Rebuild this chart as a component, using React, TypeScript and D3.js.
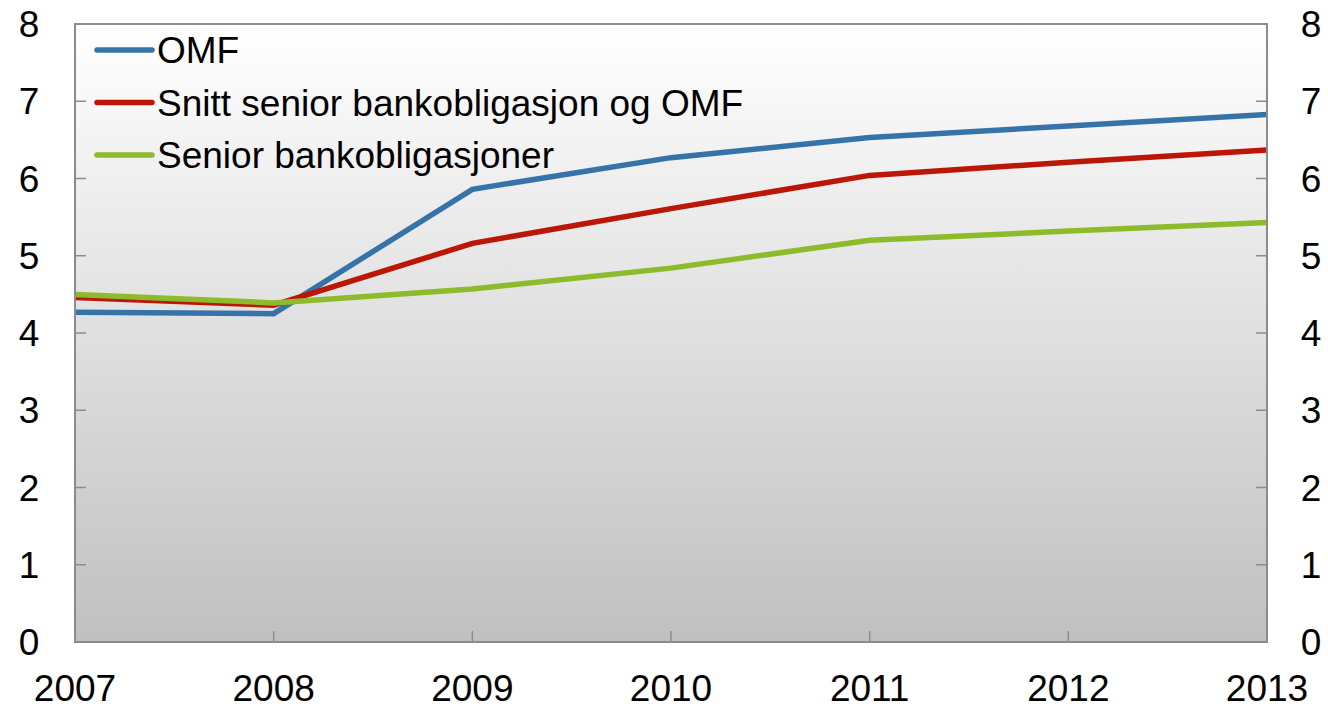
import React from "react";
import * as d3 from "d3";

// years on the x axis
const years = [2007, 2008, 2009, 2010, 2011, 2012, 2013];
// series values (percent)
const omf = [4.27, 4.25, 5.86, 6.27, 6.53, 6.68, 6.83];
const snitt = [4.46, 4.36, 5.16, 5.61, 6.04, 6.21, 6.37];
const senior = [4.5, 4.39, 4.57, 4.84, 5.2, 5.32, 5.43];
const yTicks = [0, 1, 2, 3, 4, 5, 6, 7, 8];

const series = [
  { name: "OMF", values: omf, color: "#3673a9" },
  { name: "Snitt senior bankobligasjon og OMF", values: snitt, color: "#bc1607" },
  { name: "Senior bankobligasjoner", values: senior, color: "#8dbb2b" },
];

const W = 1328;
const H = 709;
const margin = { top: 24, right: 61, bottom: 67, left: 75 };
const FONT = "'Liberation Sans', Arial, sans-serif";

export default function App() {
  const x = d3
    .scaleLinear()
    .domain([years[0], years[years.length - 1]])
    .range([margin.left, W - margin.right]);
  const y = d3
    .scaleLinear()
    .domain([0, 8])
    .range([H - margin.bottom, margin.top]);

  const line = d3
    .line<number>()
    .x((_, i) => x(years[i]))
    .y((d) => y(d));

  const axisColor = "#8c8c8c";
  const tickLen = 11;

  return (
    <svg
      width={W}
      height={H}
      style={{ position: "absolute", left: 0, top: 0, display: "block" }}
      fontFamily={FONT}
    >
      <defs>
        <linearGradient id="bg" x1="0" y1="0" x2="0" y2="1">
          <stop offset="0%" stopColor="#ffffff" />
          <stop offset="100%" stopColor="#c0c0c0" />
        </linearGradient>
        <clipPath id="plot">
          <rect
            x={x.range()[0]}
            y={y.range()[1]}
            width={x.range()[1] - x.range()[0]}
            height={y.range()[0] - y.range()[1]}
          />
        </clipPath>
      </defs>
      <rect
        x={x.range()[0]}
        y={y.range()[1]}
        width={x.range()[1] - x.range()[0]}
        height={y.range()[0] - y.range()[1]}
        fill="url(#bg)"
      />

      {/* ticks */}
      {yTicks.map((t) => (
        <g key={"yt" + t}>
          <line x1={x.range()[0]} x2={x.range()[0] + tickLen} y1={y(t)} y2={y(t)} stroke={axisColor} strokeWidth={1.5} />
          <line x1={x.range()[1]} x2={x.range()[1] - tickLen} y1={y(t)} y2={y(t)} stroke={axisColor} strokeWidth={1.5} />
          <text x={29} y={y(t) + 13} fontSize={37} textAnchor="middle" fill="#000">
            {t}
          </text>
          <text x={1311} y={y(t) + 13} fontSize={37} textAnchor="middle" fill="#000">
            {t}
          </text>
        </g>
      ))}
      {years.map((yr) => (
        <g key={"xt" + yr}>
          <line x1={x(yr)} x2={x(yr)} y1={y(0)} y2={y(0) - tickLen} stroke={axisColor} strokeWidth={1.5} />
          <text x={x(yr)} y={701} fontSize={37} textAnchor="middle" fill="#000">
            {yr}
          </text>
        </g>
      ))}

      {/* lines */}
      <g clipPath="url(#plot)">
        {series.map((s) => (
          <path
            key={s.name}
            d={line(s.values) || ""}
            fill="none"
            stroke={s.color}
            strokeWidth={5.5}
            strokeLinejoin="miter"
          />
        ))}
      </g>

      {/* frame */}
      <rect
        x={x.range()[0]}
        y={y.range()[1]}
        width={x.range()[1] - x.range()[0]}
        height={y.range()[0] - y.range()[1]}
        fill="none"
        stroke={axisColor}
        strokeWidth={2}
      />

      {/* legend */}
      {series.map((s, i) => {
        const ly = 50 + i * 52.5;
        return (
          <g key={"lg" + s.name}>
            <line x1={97} x2={152} y1={ly} y2={ly} stroke={s.color} strokeWidth={5.5} strokeLinecap="round" />
            <text x={157} y={ly + 13} fontSize={37} fill="#000">
              {s.name}
            </text>
          </g>
        );
      })}
    </svg>
  );
}
